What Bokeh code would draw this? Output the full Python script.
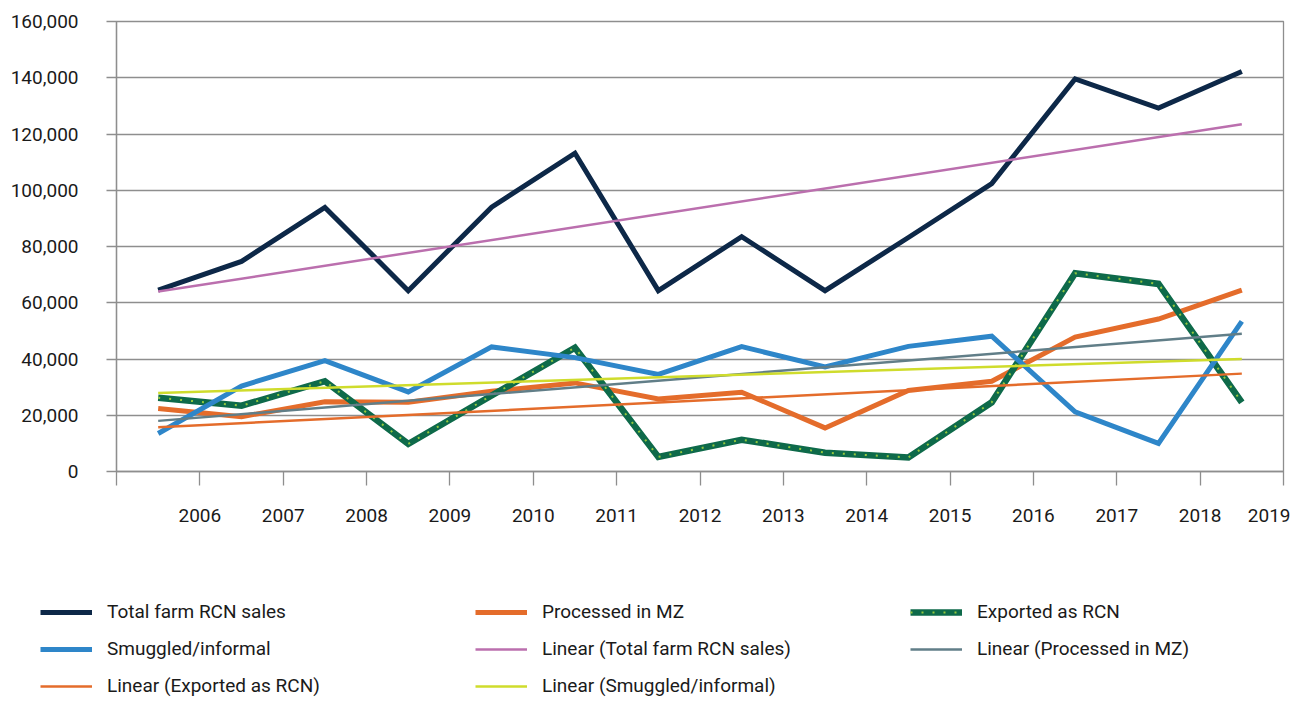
from bokeh.plotting import figure
from bokeh.models import FixedTicker, NumeralTickFormatter, Legend, LegendItem, Range1d
from bokeh.embed import file_html
from bokeh.resources import INLINE

# ---- data ----
tick_labels = ["2006", "2007", "2008", "2009", "2010", "2011", "2012",
               "2013", "2014", "2015", "2016", "2017", "2018", "2019"]

total_sales = [64500, 74700, 93900, 64300, 94000, 113200, 64300,
               83500, 64300, 83200, 102400, 139600, 129200, 142200]
processed_mz = [22400, 19500, 24800, 24600, 28500, 31500, 25800,
                28200, 15500, 28800, 32100, 47800, 54200, 64500]
exported_rcn = [26200, 23400, 32100, 9800, 27000, 44000, 5200,
                11300, 6700, 5000, 24600, 70500, 66700, 24600]
smuggled = [13500, 30400, 39400, 28300, 44300, 40500, 34500,
            44400, 37200, 44500, 48100, 21200, 10000, 53400]

# trend lines (start value, end value)
trend_total = [64000, 123500]
trend_processed = [18000, 49000]
trend_exported = [15700, 34800]
trend_smuggled = [27900, 40000]

series_labels = ["Total farm RCN sales", "Processed in MZ", "Exported as RCN",
                 "Smuggled/informal", "Linear (Total farm RCN sales)",
                 "Linear (Processed in MZ)", "Linear (Exported as RCN)",
                 "Linear (Smuggled/informal)"]

n = len(total_sales)
x = [i + 0.5 for i in range(n)]
trend_x = [x[0], x[-1]]

FONT = "Roboto"
TXT = "#1a1a1a"
GRID = "#8e8e8e"
W, H1, H2 = 1290, 590, 107

sty = {
    "total": dict(line_color="#0d2848", line_width=5, line_join="miter"),
    "proc": dict(line_color="#e46c2b", line_width=5, line_join="miter"),
    "exp": dict(line_color="#0e6a4a", line_width=6.5, line_join="miter"),
    "expdot": dict(line_color="#93c83e", line_width=2, line_dash="2 9"),
    "smug": dict(line_color="#2e86c9", line_width=5, line_join="miter"),
    "t_total": dict(line_color="#bb6fae", line_width=2.5),
    "t_proc": dict(line_color="#617e88", line_width=2.5),
    "t_exp": dict(line_color="#e46c2b", line_width=2.5),
    "t_smug": dict(line_color="#cfdc2c", line_width=2.5),
}

p = figure(width=W, height=H1, output_backend="svg", toolbar_location=None,
           x_range=Range1d(0, n), y_range=Range1d(0, 160000),
           min_border_left=116, min_border_right=W - 1283, min_border_top=21,
           min_border_bottom=H1 - 471, background_fill_color="white",
           border_fill_color="white")

p.xgrid.visible = False
p.ygrid.grid_line_color = GRID
p.ygrid.grid_line_width = 1.3
p.outline_line_color = GRID
p.outline_line_width = 1.3

p.xaxis.ticker = FixedTicker(ticks=list(range(n + 1)))
overrides = {0: ""}
for i, lab in enumerate(tick_labels):
    overrides[i + 1] = lab
p.xaxis.major_label_overrides = overrides
p.yaxis.ticker = FixedTicker(ticks=list(range(0, 160001, 20000)))
p.yaxis.formatter = NumeralTickFormatter(format="0,0")

for ax in (p.xaxis[0], p.yaxis[0]):
    ax.axis_line_color = GRID
    ax.axis_line_width = 1.3
    ax.major_tick_line_color = GRID
    ax.major_tick_line_width = 1.3
    ax.major_tick_in = 0
    ax.minor_tick_out = 0
    ax.minor_tick_in = 0
    ax.major_label_text_font = FONT
    ax.major_label_text_font_size = "19px"
    ax.major_label_text_color = TXT
p.xaxis.major_tick_out = 14
p.xaxis.major_label_standoff = 23
p.yaxis.major_tick_out = 10
p.yaxis.major_label_standoff = 28

p.line(x, total_sales, **sty["total"])
p.line(x, processed_mz, **sty["proc"])
p.line(x, exported_rcn, **sty["exp"])
p.line(x, exported_rcn, **sty["expdot"])
p.line(x, smuggled, **sty["smug"])
p.line(trend_x, trend_total, **sty["t_total"])
p.line(trend_x, trend_processed, **sty["t_proc"])
p.line(trend_x, trend_exported, **sty["t_exp"])
p.line(trend_x, trend_smuggled, **sty["t_smug"])

# ---- legend panel (separate root, so its frame spans the full width) ----
lg = figure(width=W, height=H2, output_backend="svg", toolbar_location=None,
            x_range=Range1d(0, 1), y_range=Range1d(0, 1),
            x_axis_location=None, y_axis_location=None,
            min_border_left=0, min_border_right=0, min_border_top=0,
            min_border_bottom=0, outline_line_color=None,
            background_fill_color="white", border_fill_color="white")
lg.xgrid.visible = False
lg.ygrid.visible = False

# the same series, drawn outside this panel's view (only their legend swatches show)
groups = [[("total", total_sales)], [("proc", processed_mz)],
          [("exp", exported_rcn), ("expdot", exported_rcn)],
          [("smug", smuggled)], [("t_total", trend_total)],
          [("t_proc", trend_processed)], [("t_exp", trend_exported)],
          [("t_smug", trend_smuggled)]]
items = []
for lab, grp in zip(series_labels, groups):
    rs = []
    for k, vals in grp:
        xs = x if len(vals) == n else trend_x
        rs.append(lg.line(xs, vals, **sty[k]))
    items.append(LegendItem(label=lab, renderers=rs))

legend = Legend(items=items, ncols=3, orientation="horizontal",
                location=(40, 0), glyph_width=52, glyph_height=22,
                label_height=22, label_width=354, label_standoff=15,
                spacing=14, padding=0, margin=0,
                border_line_alpha=0, background_fill_alpha=0,
                label_text_font=FONT, label_text_font_size="19px",
                label_text_color=TXT)
lg.add_layout(legend)

open("out.html", "w").write(file_html([p, lg], INLINE))
